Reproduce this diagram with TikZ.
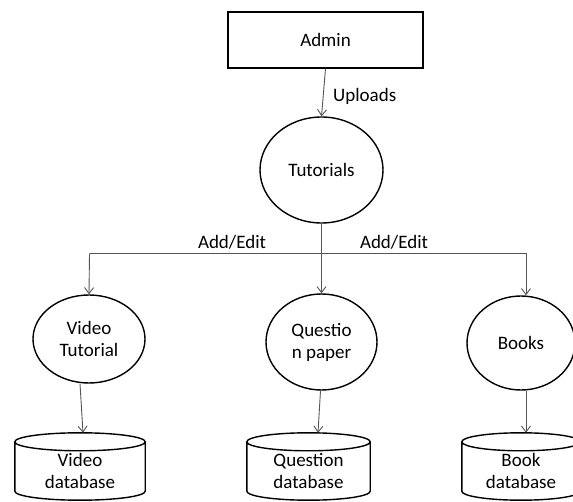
\documentclass[tikz,border=0pt]{standalone}
\usepackage{fontspec}
\setmainfont{Carlito}
\usetikzlibrary{arrows.meta,calc,shapes.geometric}

\tikzset{
  every node/.style={font=\fontsize{19}{22}\selectfont, align=center, inner sep=0pt},
  shapeline/.style={draw=black, line width=1.4pt},
  entity/.style={shapeline, rectangle},
  process/.style={shapeline, ellipse},
  store/.style={rectangle},
  flow/.style={draw={rgb,255:red,85;green,85;blue,85}, line width=0.9pt,
               -{Straight Barb[length=6pt,width=9pt]}},
  bus/.style={draw={rgb,255:red,85;green,85;blue,85}, line width=0.9pt},
  flowlabel/.style={anchor=base}
}

% cylinder outline around a store node: top cap centred on north, bottom arc ending at south
\newcommand\dbdraw[1]{%
  \draw[shapeline] let \p1=(#1.north west), \p2=(#1.south east), \n1={(\x2-\x1)/2} in
    ({(\x1+\x2)/2},\y1) ellipse[x radius=\n1, y radius=9pt]
    (\x1,\y1) -- (\x1,\y2+9pt)
      arc[start angle=180, end angle=360, x radius=\n1, y radius=9pt]
      -- (\x2,\y1);
}

\begin{document}
\begin{tikzpicture}[x=1pt, y=-1pt]
  \useasboundingbox (0,0) rectangle (573,502);

  % external entity and main process
  \node[entity, minimum width=195pt, minimum height=56pt] (admin) at (325.5,40) {Admin};
  \node[process, minimum width=123pt, minimum height=106pt] (tut) at (321.5,170) {Tutorials};

  % sub-processes
  \node[process, minimum width=112pt, minimum height=88pt] (vt) at (89,339) {Video\\Tutorial};
  \node[process, minimum width=111pt, minimum height=96pt] (qp) at (321.5,342) {Questio\\n paper};
  \node[process, minimum width=108pt, minimum height=94pt] (bk) at (521,343) {Books};

  % data stores
  \node[store, minimum width=130pt, minimum height=58pt] (vdb) at (80,471) {Video\\database};
  \node[store, minimum width=123pt, minimum height=58pt] (qdb) at (308.5,471) {Question\\database};
  \node[store, minimum width=118pt, minimum height=58pt] (bdb) at (521,471) {Book\\database};
  \dbdraw{vdb}
  \dbdraw{qdb}
  \dbdraw{bdb}

  % admin uploads tutorials
  \draw[flow] (admin.south) -- (tut.north);
  \node[flowlabel, anchor=west] (up) at (333,96) {Uploads};

  % distribution bus
  \coordinate (busL) at (89.5,253.5);
  \coordinate (busR) at (526,253.5);
  \draw[bus] (busL) -- (busR);
  \draw[flow] (tut.south) -- (qp.north);
  \draw[flow] (busL) -- (vt.north);
  \draw[flow] (busR) -- (busR |- bk.north);
  \node[flowlabel] (ae1) at (232,249) {Add/Edit};
  \node[flowlabel] (ae2) at (394,249) {Add/Edit};

  % processes write to their stores
  \draw[flow] ([xshift=-9pt]vt.south) -- ([xshift=3pt,yshift=9pt]vdb.north);
  \draw[flow] ([xshift=-1pt]qp.south) -- ([xshift=9.5pt,yshift=9pt]qdb.north);
  \draw[flow] ([xshift=5pt]bk.south) -- ([xshift=5pt,yshift=9pt]bdb.north);
\end{tikzpicture}
\end{document}
